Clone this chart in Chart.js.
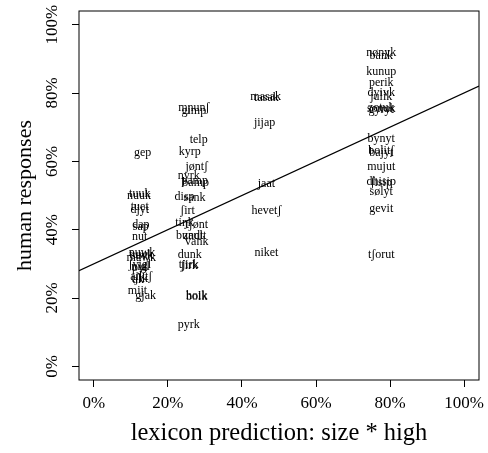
<!DOCTYPE html>
<html>
<head>
<meta charset="utf-8">
<script src="https://cdn.jsdelivr.net/npm/chart.js@4"></script>
<style>
  html, body { margin: 0; padding: 0; background: #fff; }
  #wrap { width: 488px; height: 453px; }
</style>
</head>
<body>
<div id="wrap"><canvas id="wordsChart" width="488" height="453"></canvas></div>
<script>
// word labels with their lexicon prediction (x) and human response rate (y)
const words = [
    'gep', 'tuuk', 'nuuk', 'tuet', 'djyt', 'dap', 'sap', 'nut', 'nuwk', 'tuwk', 'suvk', 'mawk',
    'ʃyigl', 'pyl', 'nigl', 'aiktʃ', 'ak', 'tʃik', 'mijt', 'gjak',
    'mɲunʃ', 'gimp', 'telp', 'kyrp', 'jøntʃ', 'nyrk', 'pamp', 'bamp', 'disp', 'sank', 'ʃirt',
    'tiŋk', 'tʃønt', 'bundt', 'zault', 'vank', 'dunk', 'tjirk', 'ʃirk', 'hoik', 'bolk', 'pyrk',
    'masak', 'tasak', 'jijap', 'jaat', 'hevetʃ', 'niket',
    'nønyk', 'bank', 'kunup', 'perik', 'dyivk', 'julik', 'zotuk', 'sonuk', 'gyryt', 'bynyt',
    'bolitʃ', 'bajyt', 'mujut', 'dhisip', 'ʃisip', 'sølyt', 'gevit', 'tʃorut'
];
const xValues = [
    0.132, 0.124, 0.122, 0.124, 0.124, 0.127, 0.127, 0.124, 0.130, 0.128, 0.130, 0.128,
    0.124, 0.124, 0.126, 0.128, 0.120, 0.124, 0.118, 0.140,
    0.270, 0.270, 0.283, 0.259, 0.278, 0.256, 0.272, 0.275, 0.245, 0.272, 0.253,
    0.245, 0.278, 0.259, 0.272, 0.278, 0.259, 0.256, 0.258, 0.278, 0.278, 0.256,
    0.464, 0.466, 0.461, 0.466, 0.466, 0.466,
    0.776, 0.776, 0.776, 0.776, 0.776, 0.776, 0.776, 0.776, 0.776, 0.776,
    0.776, 0.776, 0.776, 0.776, 0.776, 0.776, 0.776, 0.776
];
const yValues = [
    0.626, 0.505, 0.500, 0.468, 0.458, 0.415, 0.408, 0.380, 0.332, 0.327, 0.322, 0.318,
    0.296, 0.289, 0.292, 0.262, 0.252, 0.257, 0.222, 0.207,
    0.758, 0.748, 0.664, 0.629, 0.585, 0.558, 0.543, 0.538, 0.497, 0.493, 0.456,
    0.421, 0.414, 0.383, 0.383, 0.365, 0.326, 0.297, 0.293, 0.207, 0.203, 0.120,
    0.790, 0.787, 0.713, 0.535, 0.456, 0.333,
    0.918, 0.908, 0.863, 0.830, 0.800, 0.790, 0.758, 0.755, 0.752, 0.667,
    0.632, 0.626, 0.585, 0.540, 0.536, 0.510, 0.462, 0.325
];
const tickValues = [0, 0.2, 0.4, 0.6, 0.8, 1];
const axisMin = -0.04;
const axisMax = 1.04;
const fitIntercept = 0.30;
const fitSlope = 0.50;
const xTitle = 'lexicon prediction: size * high';
const yTitle = 'human responses';

const serif = '"Liberation Serif", "Times New Roman", serif';
const pct = v => Math.round(v * 100) + '%';

const rStylePlugin = {
    id: 'rStyle',
    afterDatasetsDraw(chart) {
        const ctx = chart.ctx;
        const area = chart.chartArea;
        const xs = chart.scales.x;
        const ys = chart.scales.y;

        // word labels at each point
        const meta = chart.getDatasetMeta(0);
        ctx.save();
        ctx.fillStyle = '#000';
        ctx.font = '12px ' + serif;
        ctx.textAlign = 'center';
        ctx.textBaseline = 'middle';
        meta.data.forEach((pt, i) => ctx.fillText(words[i], pt.x, pt.y));

        // box
        ctx.strokeStyle = '#000';
        ctx.lineWidth = 1;
        ctx.strokeRect(area.left, area.top, area.right - area.left, area.bottom - area.top);

        // tick labels
        ctx.font = '17px ' + serif;
        tickValues.forEach(v => {
            ctx.fillText(pct(v), xs.getPixelForValue(v), 404);
            ctx.save();
            ctx.translate(53, ys.getPixelForValue(v));
            ctx.rotate(-Math.PI / 2);
            ctx.fillText(pct(v), 0, 0);
            ctx.restore();
        });

        // axis titles
        ctx.font = '24.5px ' + serif;
        ctx.fillText(xTitle, (area.left + area.right) / 2, 434);
        ctx.save();
        ctx.translate(25, (area.top + area.bottom) / 2);
        ctx.rotate(-Math.PI / 2);
        ctx.font = '22px ' + serif;
        ctx.fillText(yTitle, 0, 0);
        ctx.restore();
        ctx.restore();
    }
};

const setTicks = axis => { axis.ticks = tickValues.map(v => ({ value: v })); };

const ctx = document.getElementById('wordsChart').getContext('2d');
new Chart(ctx, {
    type: 'scatter',
    data: {
        datasets: [{
            label: 'words',
            data: words.map((w, i) => ({ x: xValues[i], y: yValues[i] })),
            pointRadius: 0
        }, {
            type: 'line',
            label: 'fit',
            data: [axisMin, axisMax].map(x => ({ x: x, y: fitIntercept + fitSlope * x })),
            borderColor: '#000',
            borderWidth: 1.2,
            pointRadius: 0,
            fill: false
        }]
    },
    options: {
        responsive: false,
        animation: false,
        events: [],
        layout: { padding: { top: 11, right: 9, left: 0, bottom: 0 } },
        plugins: { legend: { display: false }, tooltip: { enabled: false } },
        scales: {
            x: {
                type: 'linear',
                min: axisMin,
                max: axisMax,
                afterBuildTicks: setTicks,
                afterFit: s => { s.height = 73; },
                ticks: { display: false },
                border: { display: false },
                grid: { drawOnChartArea: false, drawTicks: true, tickLength: 7, tickColor: '#000' }
            },
            y: {
                type: 'linear',
                min: axisMin,
                max: axisMax,
                afterBuildTicks: setTicks,
                afterFit: s => { s.width = 79; },
                ticks: { display: false },
                border: { display: false },
                grid: { drawOnChartArea: false, drawTicks: true, tickLength: 7, tickColor: '#000' }
            }
        }
    },
    plugins: [rStylePlugin]
});
</script>
</body>
</html>
